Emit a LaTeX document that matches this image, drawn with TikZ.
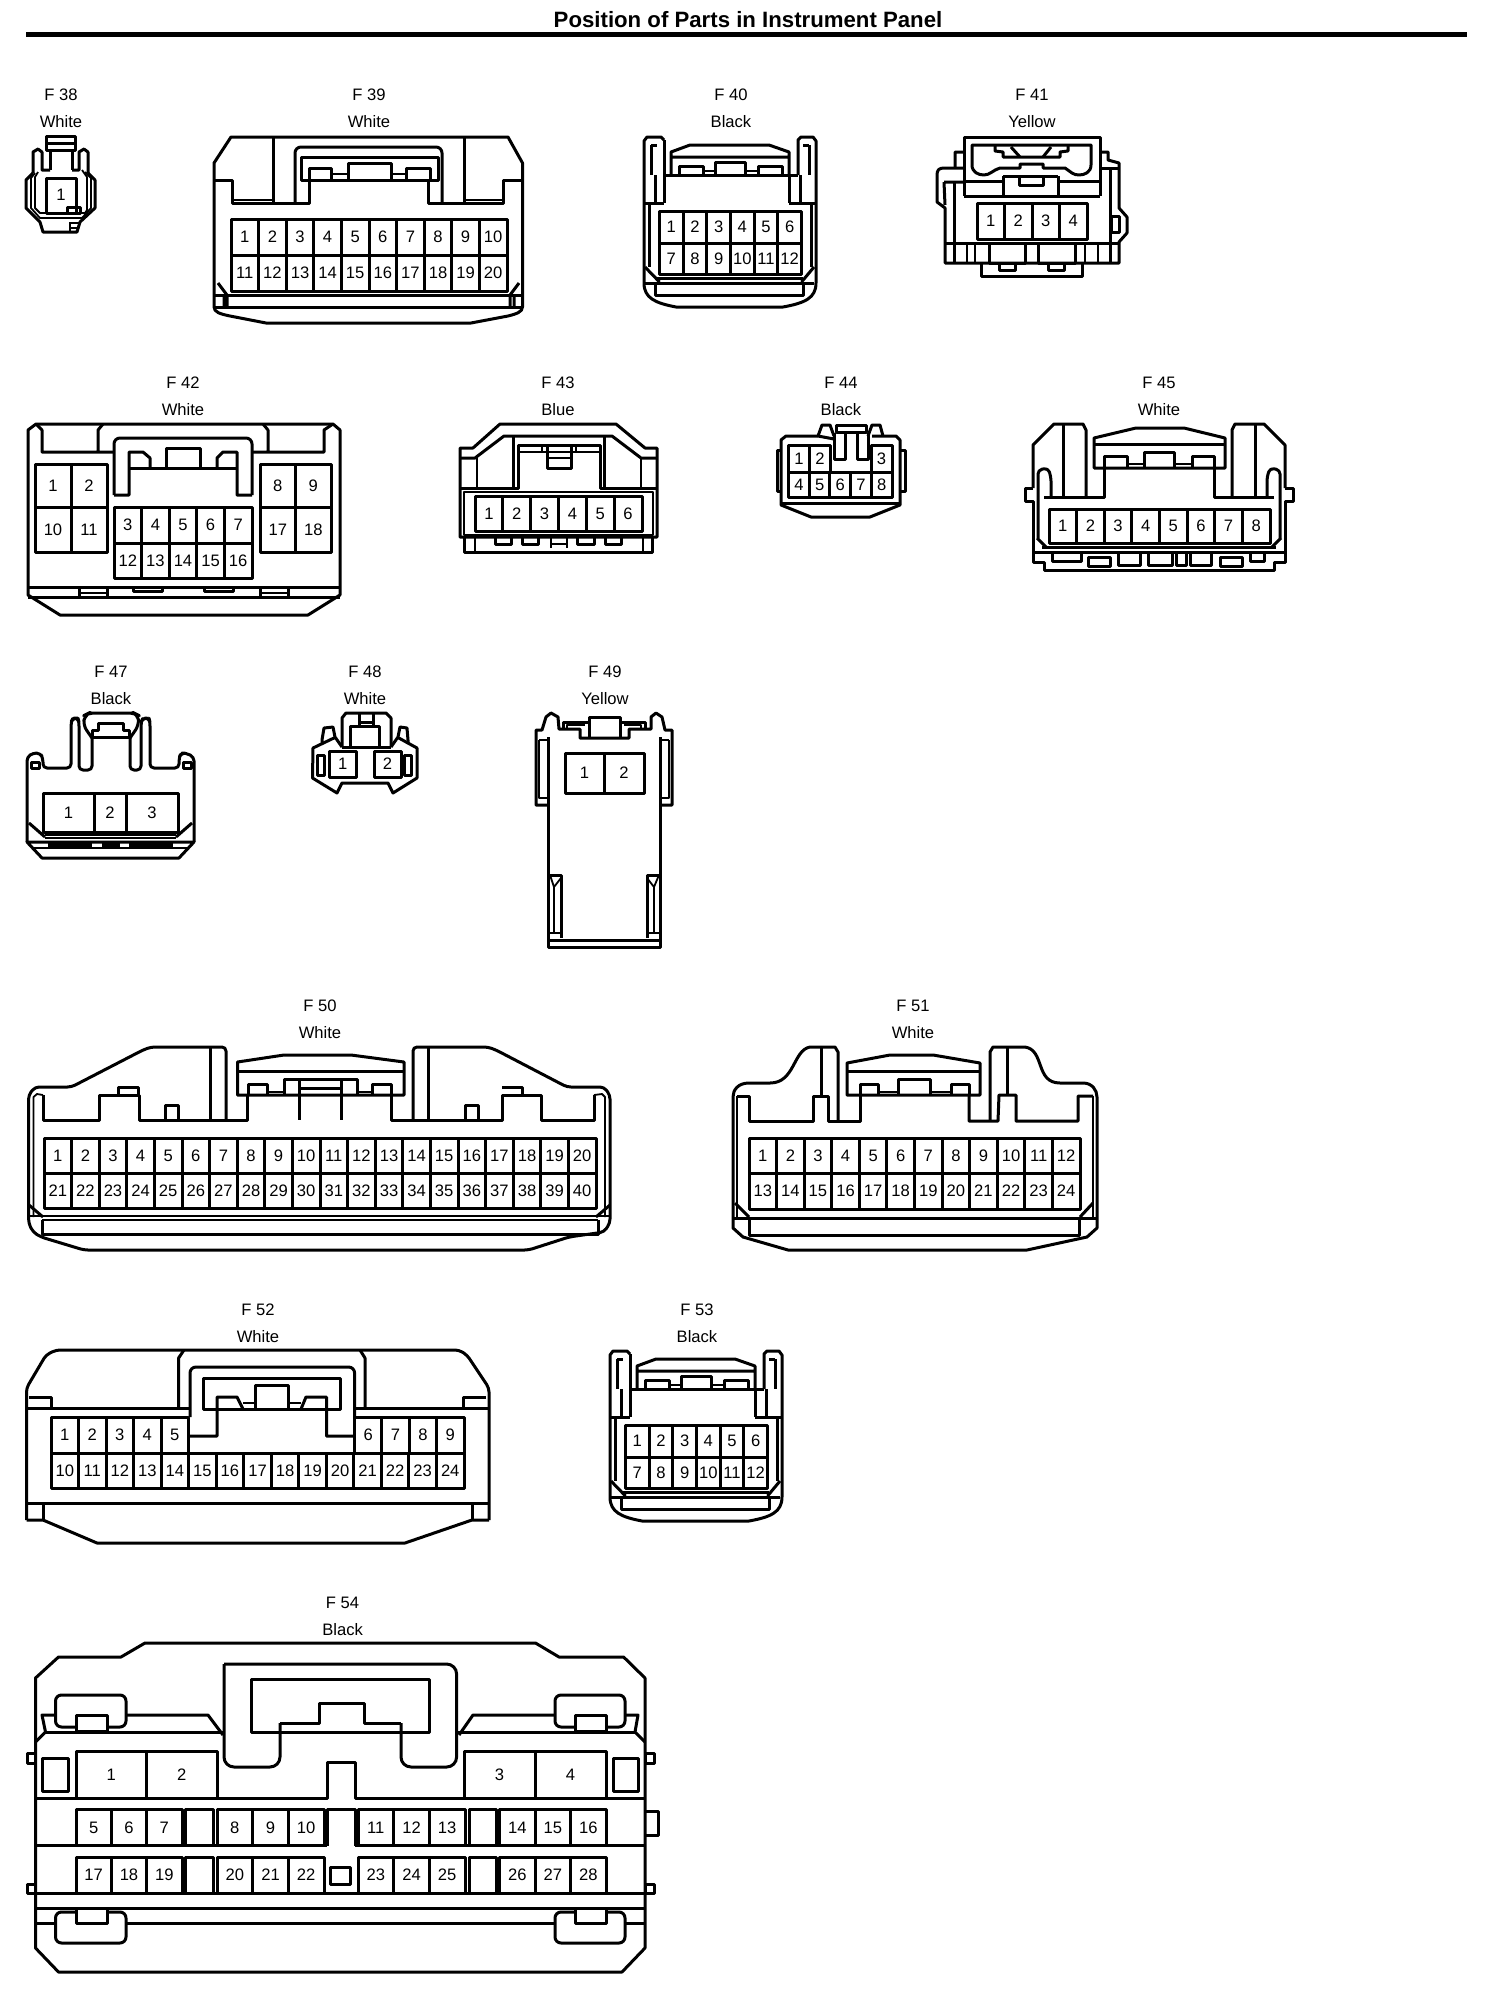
\documentclass[tikz,border=0pt]{standalone}
\usepackage{fontspec}
\setmainfont{Liberation Sans}
\usetikzlibrary{positioning}
\tikzstyle{part}=[line width=1.5pt, line join=round]
\tikzstyle{thin part}=[line width=0.9pt, line join=round]
\tikzstyle{tag}=[inner sep=0pt, text height=5.9pt, text depth=0pt, font=\fontsize{8.3}{10}\selectfont]
\tikzstyle{pin}=[inner sep=0pt, text height=5.9pt, text depth=0pt, font=\fontsize{8.3}{10}\selectfont]
\tikzstyle{headline}=[inner sep=0pt, font=\fontsize{11.1}{13}\selectfont\bfseries]

% label pair above a connector: name, x, code, colour
\newcommand{\partlabel}[5]{%
  \node[tag] (#1-code) at (#2,#3) {#4};
  \node[tag, below=13.5pt of #1-code.center, anchor=center] (#1-colour) {#5};
}
% one row of equal cells: name, x0, y0, x1, y1, cells, first number
\newcommand{\pingrid}[7]{%
  \draw[part] (#2,#3) rectangle (#4,#5);
  \foreach \k in {1,...,#6}{
    \pgfmathsetmacro{\cellw}{(#4-#2)/#6}
    \pgfmathsetmacro{\cellx}{#2+(\k-0.5)*\cellw}
    \pgfmathsetmacro{\celly}{(#3+#5)/2}
    \pgfmathsetmacro{\cellr}{#2+\k*\cellw}
    \pgfmathtruncatemacro{\cellnum}{#7+\k-1}
    \node[pin] (#1-\cellnum) at (\cellx,\celly) {\cellnum};
    \ifnum\k<#6 \draw[part] (\cellr,#3) -- (\cellr,#5); \fi
  }
}
% single cell: name, x0, y0, x1, y1, number
\newcommand{\pincell}[6]{%
  \draw[part] (#2,#3) rectangle (#4,#5);
  \node[pin] (#1-#6) at ({(#2+#4)/2},{(#3+#5)/2}) {#6};
}
% body shared by F 40 and F 53
\newcommand{\lockbody}[1]{%
  \draw[part] (664,140) -- (661,137) -- (647,137) -- (644,141) -- (644,283) .. controls (644,298) and (655,303) .. (676,307) -- (783,307) .. controls (805,303) and (816,298) .. (816,283) -- (816,141) -- (813,137) -- (801,137) -- (798,140) -- (798,175);
  \draw[part] (664,140) -- (664,203) (651,145) -- (651,175) (655,175) -- (655,203) (651,145) -- (657,145);
  \draw[part] (789,175) -- (789,203) (800,175) -- (800,203) (809,145) -- (809,175) (803,145) -- (809,145);
  \draw[part] (644,203) -- (664,203) (789,203) -- (816,203);
  \draw[part] (664,175) -- (798,175);
  \draw[part] (671,175) -- (671,152) -- (690,145) -- (769,145) -- (789,152) -- (789,175) (671,157) -- (789,157);
  \draw[part] (679,175) |- (703,166) -- (703,175) (715,175) |- (745,162) -- (745,175) (758,175) |- (782,166) -- (782,175);
  \draw[thin part] (703,171) -- (715,171) (745,171) -- (758,171);
  \draw[part] (649,203) -- (649,267) (811,203) -- (811,267);
  \pingrid{#1}{659.5}{211}{801.5}{243}{6}{1}
  \pingrid{#1}{659.5}{243}{801.5}{274}{6}{7}
  \draw[part] (645,267) -- (659.5,282) (814,267) -- (801.5,282);
  \draw[part] (655,278) -- (803,278) (645,283) -- (814,283);
  \draw[part] (655,283) -- (655,295) -- (803,295) -- (803,283);
}

\begin{document}
\begin{tikzpicture}[x=0.5pt, y=-0.5pt]
\useasboundingbox (0,0) rectangle (1504,1998);

% Heading
\node[headline] (heading) at (748,20) {Position of Parts in Instrument Panel};
\coordinate (ruleL) at (26,34.5);
\coordinate (ruleR) at (1467,34.5);
\draw[line width=2.5pt] (ruleL) -- (ruleR);

% F 38
\partlabel{F38}{61}{95}{F 38}{White}
\draw[part] (46,150) -- (46,136) -- (75,136) -- (75,150) -- cycle (46,143) -- (75,143);
\draw[part] (50,150) -- (50,170) (72,150) -- (72,170);
\draw[part] (50,170) -- (42,170) -- (42,152) -- (38,149) -- (33,152) -- (33,173);
\draw[part] (72,170) -- (79,170) -- (79,152) -- (84,149) -- (88,152) -- (88,173);
\draw[part] (33,173) -- (26,180) -- (26,208) -- (40,222) -- (43,232) -- (77,232) -- (80,222) -- (95,208) -- (95,180) -- (88,173);
\draw[thin part] (35,173) -- (31,178) -- (31,208) -- (40,218) -- (82,218) -- (91,208) -- (91,178) -- (85,172);
\draw[thin part] (38,172) -- (35,177) -- (35,208) -- (40,213) -- (85,213) -- (87,210) -- (87,177) -- (82,170);
\draw[part] (46,178) rectangle (76,213);
\draw[part] (67,207) rectangle (80,213);
\draw[thin part] (70,223) -- (80,223) (70,228) -- (78,228) (70,222) -- (70,232);
\node[pin] (F38-1) at (61,195) {1};

% F 39
\partlabel{F39}{369}{95}{F 39}{White}
\draw[part] (231,137) -- (508,137) -- (522.5,163) -- (522.5,307) .. controls (522.5,312) and (516,314) .. (508,316) -- (471,323) -- (266,323) -- (230,316) .. controls (220,314) and (214,312) .. (214,307) -- (214,163) -- cycle;
\draw[part] (214,180) -- (232,180) -- (232,203) -- (309,203) -- (309,180);
\draw[part] (522.5,180) -- (503,180) -- (503,203) -- (428,203) -- (428,180);
\draw[thin part] (232,200) -- (273,200) (503,200) -- (464,200);
\draw[part] (273,137) -- (273,203) (464,137) -- (464,203);
\draw[part, rounded corners=3pt] (295,203) -- (295,147) -- (442,147) -- (442,203);
\draw[part] (301,157) rectangle (438,180);
\draw[part] (309,180) |- (331,168) -- (331,180) (348,180) |- (391,163) -- (391,180) (406,180) |- (430,168) -- (430,180);
\draw[thin part] (331,174) -- (348,174) (391,174) -- (406,174);
\pingrid{F39}{231}{219}{507}{255}{10}{1}
\pingrid{F39}{231}{255}{507}{291}{10}{11}
\draw[part] (214,295) -- (522.5,295) (214,307) -- (522.5,307);
\draw[part] (218,283) -- (227,295) -- (227,307) (224,295) -- (224,307);
\draw[part] (519,283) -- (510,295) -- (510,307) (514,295) -- (514,307);

% F 40
\partlabel{F40}{731}{95}{F 40}{Black}
\lockbody{F40}

% F 41
\partlabel{F41}{1032}{95}{F 41}{Yellow}
\draw[part] (964,196) -- (964,137) -- (1100,137) -- (1100,196);
\draw[part] (972,145) -- (1091,145) -- (1091,165) .. controls (1091,172) and (1085,175) .. (1079,175) .. controls (1073,175) and (1071,172) .. (1065,168) -- (1043,168) -- (1043,164) -- (1020,164) -- (1020,168) -- (1000,168) .. controls (993,170) and (990,175) .. (984,175) .. controls (978,175) and (972,172) .. (972,165) -- cycle;
\draw[part] (995,146) -- (995,151) -- (1003,152) -- (1003,157) -- (1060,157) -- (1060,152) -- (1068,151) -- (1068,146);
\draw[part] (1011,147) -- (1020,157) (1051,147) -- (1043,157);
\draw[part] (1003,176) -- (1058,176);
\draw[part] (964,181) -- (1003,181) (1058,181) -- (1100,181);
\draw[part] (1003,176) -- (1003,196) (1058,176) -- (1058,196);
\draw[part] (1019,176) -- (1019,185) -- (1043,185) -- (1043,176);
\draw[part] (964,196) -- (1100,196);
\pingrid{F41}{977}{203}{1087}{239}{4}{1}
\draw[part] (964,168) -- (944,168) .. controls (939,168) and (937,170) .. (937,175) -- (937,202) -- (945,208) -- (945,263) -- (1119,263) -- (1119,242) -- (1127,233) -- (1127,217) -- (1119,208) -- (1119,163) -- (1108,160) -- (1108,152) -- (1100,152);
\draw[part] (964,152) -- (955,152) -- (955,168) (944,182) -- (964,182) (944,182) -- (945,205);
\draw[part] (954,182) -- (954,263) (1110,168) -- (1110,263) (1100,168) -- (1119,168);
\draw[part] (1111,216) rectangle (1119,232);
\draw[part] (945,243) -- (989,243) (1025,243) -- (1038,243) (1075,243) -- (1119,243);
\draw[part] (989,243) rectangle (1025,263) (1038,243) rectangle (1075,263);
\draw[thin part] (967,243) -- (967,263) (975,243) -- (975,263) (1085,243) -- (1085,263) (1098,243) -- (1098,263);
\draw[part] (981,263) -- (981,276) -- (1082,276) -- (1082,263);
\draw[part] (999,263) -- (999,270) -- (1015,270) -- (1015,263) (1048,263) -- (1048,270) -- (1064,270) -- (1064,263);

% F 42
\partlabel{F42}{183}{383}{F 42}{White}
\draw[part] (36,424) -- (333,424) -- (340,430) -- (340,595) -- (308,615) -- (60,615) -- (28,595) -- (28,430) -- cycle;
\draw[part] (36,424) -- (42,430) -- (42,452) -- (114,452) (98,452) -- (98,430) -- (103,424);
\draw[part] (333,424) -- (324,430) -- (324,452) -- (252,452) (268,452) -- (268,430) -- (263,424);
\draw[part, rounded corners=3pt] (114,495) -- (114,438) -- (252,438) -- (252,495);
\draw[part] (114,495) -- (129,495) -- (129,452) -- (143,452) -- (150,458) -- (150,468);
\draw[part] (252,495) -- (237,495) -- (237,452) -- (223,452) -- (217,458) -- (217,468);
\draw[part] (129,468) -- (237,468);
\draw[part] (166,468) |- (200,448) -- (200,468);
\pingrid{F42}{35}{464}{107}{507}{2}{1}
\pingrid{F42}{35}{507}{107}{552}{2}{10}
\pingrid{F42}{260}{464}{331}{507}{2}{8}
\pingrid{F42}{260}{507}{331}{552}{2}{17}
\pingrid{F42}{114}{507}{252}{543}{5}{3}
\pingrid{F42}{114}{543}{252}{578}{5}{12}
\draw[part] (28,587) -- (340,587) (28,597.5) -- (340,597.5);
\draw[part] (79.5,587) -- (79.5,597.5) (107,587) -- (107,597.5) (260,587) -- (260,597.5) (288,587) -- (288,597.5);
\draw[thin part] (79.5,593) -- (107,593) (260,593) -- (288,593);
\draw[part] (133,587) -- (133,591) -- (162,591) -- (162,587) (204,587) -- (204,591) -- (233,591) -- (233,587);

% F 43
\partlabel{F43}{558}{383}{F 43}{Blue}
\draw[part] (460,537) -- (460,448) -- (473,448) -- (500,424) -- (616,424) -- (645,448) -- (657,448) -- (657,537) -- cycle;
\draw[part] (460,458) -- (475,458) -- (504,436) -- (612,436) -- (641,458) -- (657,458);
\draw[part] (460,488) -- (518,488) -- (518,445) -- (600,445) -- (600,488) -- (657,488);
\draw[part] (513,436) -- (513,488) (604,436) -- (604,488);
\draw[thin part] (477,458) -- (477,488) (641,458) -- (641,488);
\draw[thin part] (464,492) rectangle (653,535);
\draw[thin part] (518,452) -- (600,452);
\draw[part] (547,445) -- (547,468) -- (571,468) -- (571,445);
\draw[thin part] (547,458) -- (571,458) (542,445) -- (542,452) (576,445) -- (576,452);
\pingrid{F43}{475}{496}{642}{531}{6}{1}
\draw[part] (464,537) -- (464,552) -- (652,552) -- (652,537);
\draw[thin part] (475,537) -- (475,552) (643,537) -- (643,552);
\draw[part] (495,537) -- (495,544) -- (511,544) -- (511,537) (522,537) -- (522,544) -- (538,544) -- (538,537);
\draw[part] (577,537) -- (577,544) -- (594,544) -- (594,537) (605,537) -- (605,544) -- (621,544) -- (621,537);
\draw[thin part] (551,537) -- (551,548) (567,537) -- (567,548) (551,544) -- (567,544);

% F 44
\partlabel{F44}{841}{383}{F 44}{Black}
\draw[part] (818,436) -- (786,436) -- (781,440) -- (781,505) -- (811,517) -- (870,517) -- (900,505) -- (900,440) -- (896,436) -- (872,436);
\draw[part] (781,503) -- (900,503);
\draw[part] (781,450) -- (777,450) -- (777,491) -- (781,491) (900,450) -- (905,450) -- (905,491) -- (900,491);
\draw[part] (818,436) -- (822,425) -- (830,425) -- (834,436);
\draw[part] (868,436) -- (872,425) -- (880,425) -- (883,436);
\draw[part] (836,425) -- (866,425) -- (866,432) -- (836,432) -- cycle;
\draw[part] (834,433) -- (834,459) -- (845,459) -- (845,432) (857,432) -- (857,459) -- (868,459) -- (868,433);
\draw[part] (818,436) -- (834,439);
\pingrid{F44}{788.6}{445}{830.3}{472}{2}{1}
\pincell{F44}{871}{445}{892}{472}{3}
\pingrid{F44}{788.6}{472}{892}{497}{5}{4}

% F 45
\partlabel{F45}{1159}{383}{F 45}{White}
\draw[part] (1033,488) -- (1033,445) -- (1054,424) -- (1083,424) -- (1086,430) -- (1086,497);
\draw[part] (1285,488) -- (1285,445) -- (1264,424) -- (1235,424) -- (1232,430) -- (1232,497);
\draw[part] (1063,424) -- (1063,497) (1255,424) -- (1255,497);
\draw[part] (1044,497) -- (1104,497) -- (1104,468) (1274,497) -- (1214,497) -- (1214,468);
\draw[part] (1033,488) -- (1025,488) -- (1025,501) -- (1033,501) -- (1033,552);
\draw[part] (1285,488) -- (1293,488) -- (1293,501) -- (1285,501) -- (1285,552);
\draw[part, rounded corners=2pt] (1038,538) -- (1038,470) -- (1048,468) -- (1051,477) -- (1051,497);
\draw[part, rounded corners=2pt] (1280,538) -- (1280,470) -- (1270,468) -- (1267,477) -- (1267,497);
\draw[part] (1094,468) -- (1094,438) -- (1136,428) -- (1184,428) -- (1225,438) -- (1225,468) -- cycle;
\draw[part] (1094,444) -- (1225,444);
\draw[part] (1104,468) |- (1127,456) -- (1127,468) (1144,468) |- (1174,452) -- (1174,468) (1192,468) |- (1214,456) -- (1214,468);
\draw[thin part] (1127,464) -- (1144,464) (1174,464) -- (1192,464);
\pingrid{F45}{1049}{509}{1270}{543}{8}{1}
\draw[part] (1037,538) -- (1046,547) (1281,538) -- (1272,547);
\draw[part] (1042,547) -- (1276,547);
\draw[part] (1033,552) -- (1285,552);
\draw[part] (1033,552) -- (1033,562) -- (1044,562) -- (1044,570) -- (1274,570) -- (1274,562) -- (1285,562) -- (1285,552);
\draw[part] (1052,552) -- (1052,561) -- (1081,561) -- (1081,552) (1118,552) -- (1118,565) -- (1140,565) -- (1140,552);
\draw[part] (1148,552) -- (1148,565) -- (1172,565) -- (1172,552) (1176,552) -- (1176,565) -- (1186,565) -- (1186,552);
\draw[part] (1190,552) -- (1190,565) -- (1211,565) -- (1211,552) (1250,552) -- (1250,561) -- (1264,561) -- (1264,552);
\draw[part] (1088,557) rectangle (1110,566) (1220,557) rectangle (1242,566);

% F 47
\partlabel{F47}{111}{672}{F 47}{Black}
\draw[part, rounded corners=2pt] (27,842) -- (27,757) -- (33,753) -- (40,753) -- (43,758) -- (43,768) -- (71,768) -- (71,722) -- (73,718) -- (78,718) -- (79,722) -- (79,770) -- (92,770) -- (92,738);
\draw[part, rounded corners=2pt] (194,842) -- (194,757) -- (186,753) -- (181,753) -- (179,758) -- (179,768) -- (150,768) -- (150,722) -- (149,718) -- (143,718) -- (141,722) -- (141,770) -- (130,770) -- (130,738);
\draw[part, rounded corners=3pt] (92,738) -- (83,725) -- (85,715) -- (89,713) -- (134,713) -- (138,715) -- (139,725) -- (130,738);
\draw[part] (92,737) -- (92,730) -- (98,730) -- (98,723) -- (123,723) -- (123,730) -- (129,730) -- (129,737) -- cycle;
\draw[part] (31,762) rectangle (39,768) (183,762) rectangle (191,768);
\pincell{F47}{43}{793}{94}{832}{1}
\pincell{F47}{94}{793}{126}{832}{2}
\pincell{F47}{126}{793}{178}{832}{3}
\draw[part] (29,823) -- (45,837) (192,823) -- (176,837);
\draw[thin part] (45,835) -- (176,835) (45,838) -- (176,838);
\draw[part] (27,842) -- (194,842) -- (179,858) -- (42,858) -- cycle;
\draw[thin part] (33,848) -- (187,848);
\draw[part] (48,843) -- (92,843) (102,843) -- (120,843) (129,843) -- (173,843) (48,846) -- (92,846) (102,846) -- (120,846) (129,846) -- (173,846);

% F 48
\partlabel{F48}{365}{672}{F 48}{White}
\draw[part] (342,747) -- (342,718) -- (346,713) -- (386,713) -- (391,718) -- (391,747);
\draw[part] (350,726) rectangle (379.5,747);
\draw[part] (359,726) -- (359,714) (373,726) -- (373,714) (359,722) -- (373,722);
\draw[part] (342,747) -- (391,747);
\draw[part] (342,747) -- (335,737) -- (333,727) -- (324,728) -- (322,740) -- (322,744);
\draw[part] (391,747) -- (398,737) -- (400,727) -- (407,728) -- (408,740) -- (408,744);
\draw[part] (336,737) -- (313,748) -- (312.5,778) -- (337,793) -- (342,783) -- (388,783) -- (393,793) -- (417,778) -- (417,748) -- (397,737);
\pincell{F48}{329.5}{751}{356}{777}{1}
\pincell{F48}{374}{751}{401}{777}{2}
\draw[part] (317,755) rectangle (324,775) (404,755) rectangle (411,775);

% F 49
\partlabel{F49}{605}{672}{F 49}{Yellow}
\draw[part] (548,805) -- (536,805) -- (536,730) -- (542,730) -- (546,717) -- (551,713) -- (558,717) -- (559,729) -- (580,729) -- (580,738) -- (629,738) -- (629,729) -- (651,729) -- (651,717) -- (656,713) -- (662,717) -- (665,730) -- (672,730) -- (672,805) -- (660,805);
\draw[part] (548,737) -- (548,947) -- (660,947) -- (660,737);
\draw[part] (548,940) -- (660,940);
\draw[part] (589,738) -- (589,717) -- (620,717) -- (620,738);
\draw[part] (563,729) -- (563,722) -- (589,722) (645,729) -- (645,722) -- (620,722);
\draw[thin part] (567,729) -- (567,725) -- (585,725) (641,729) -- (641,725) -- (624,725);
\draw[thin part] (539,740) -- (539,798) -- (548,798) (669,740) -- (669,798) -- (660,798) (539,740) -- (548,740) (669,740) -- (660,740);
\pincell{F49}{565}{753}{604}{793}{1}
\pincell{F49}{604}{753}{644}{793}{2}
\draw[part] (549,875) -- (561,875) -- (561,938) (647,938) -- (647,875) -- (660,875);
\draw[thin part] (554,887) -- (554,933) (654,887) -- (654,933) (550,875) -- (554,887) -- (561,878) (659,875) -- (654,887) -- (647,878) (549,933) -- (561,933) (647,933) -- (660,933);

% F 50
\partlabel{F50}{320}{1006}{F 50}{White}
\draw[part, rounded corners=2pt] (226,1120) -- (226,1047) -- (151,1047) -- (143,1050) -- (71.4,1087) -- (35,1087) -- (28.6,1095) -- (28.6,1223) -- (33,1232) -- (41,1237) -- (84,1250) -- (528.6,1250) -- (569,1237) -- (604,1232) -- (610,1223) -- (610,1095) -- (604,1087) -- (567,1087) -- (496,1050) -- (488,1047) -- (413,1047) -- (413,1120);
\draw[part] (210,1047) -- (210,1120) (428.6,1047) -- (428.6,1120);
\draw[thin part] (33.5,1217) -- (33.5,1097) -- (37,1094) -- (43,1095) (605,1217) -- (605,1097) -- (602,1094) -- (594,1095);
\draw[part] (43,1095) -- (43,1120) -- (99,1120) -- (99,1095) -- (139,1095) -- (139,1120) -- (247,1120) -- (247,1095);
\draw[part] (391,1095) -- (391,1120) -- (502,1120) -- (502,1095) -- (541,1095) -- (541,1120) -- (594,1120) -- (594,1095);
\draw[part] (118,1095) -- (118,1087) -- (138,1087) -- (138,1095) (502,1087) -- (522,1087) -- (522,1095);
\draw[part] (165,1120) -- (165,1105) -- (178,1105) -- (178,1120) (465,1120) -- (465,1105) -- (478,1105) -- (478,1120);
\draw[part] (237.5,1095) -- (237.5,1062) -- (284,1055) -- (351,1055) -- (404,1062) -- (404,1095) -- cycle;
\draw[part] (237.5,1071) -- (404,1071);
\draw[part] (248,1095) |- (267,1084) -- (267,1095) (372,1095) |- (391,1084) -- (391,1095);
\draw[part] (284,1095) |- (357,1079) -- (357,1095);
\draw[part] (299,1079) -- (299,1120) (341,1079) -- (341,1120) (299,1088) -- (341,1088);
\draw[thin part] (267,1092) -- (284,1092) (357,1092) -- (372,1092);
\pingrid{F50}{44}{1138}{596}{1173}{20}{1}
\pingrid{F50}{44}{1173}{596}{1208}{20}{21}
\draw[part] (29,1205) -- (43,1217) (610,1205) -- (596,1217);
\draw[thin part] (28.6,1216) -- (610,1216) (42,1220) -- (598,1220);
\draw[part] (42,1220) -- (42,1234) -- (598,1234) -- (598,1220);

% F 51
\partlabel{F51}{913}{1006}{F 51}{White}
\draw[part] (838,1121) -- (838,1052) -- (835,1047) -- (810,1047) .. controls (793,1050) and (795,1083) .. (770,1083) -- (749,1083) .. controls (738,1083) and (733,1090) .. (733,1097) -- (733,1228) -- (743,1237) -- (788,1250) -- (1027,1250) -- (1087,1237) -- (1097,1228) -- (1097,1097) .. controls (1097,1090) and (1092,1083) .. (1083,1083) -- (1060,1083) .. controls (1035,1083) and (1045,1050) .. (1025,1047) -- (993,1047) -- (990,1052) -- (990,1121);
\draw[part] (821,1047) -- (821,1096) (1007,1047) -- (1007,1095);
\draw[thin part] (737,1218) -- (737,1096) (1093,1218) -- (1093,1096);
\draw[part] (737,1096) -- (749,1096) -- (749,1121) -- (813,1121) -- (813,1096) -- (828,1096) -- (828,1121) -- (860,1121) -- (860,1095);
\draw[part] (969,1095) -- (969,1121) -- (998,1121) -- (999,1095) -- (1016,1095) -- (1016,1121) -- (1078,1121) -- (1078,1096) -- (1093,1096);
\draw[part] (847,1095) -- (847,1063) -- (890,1055) -- (933,1055) -- (980,1063) -- (980,1095) -- cycle;
\draw[part] (847,1071) -- (980,1071);
\draw[part] (860,1095) |- (878,1084) -- (878,1095) (898,1095) |- (930,1079) -- (930,1095) (951,1095) |- (969,1084) -- (969,1095);
\draw[thin part] (878,1092) -- (898,1092) (930,1092) -- (951,1092);
\pingrid{F51}{749}{1138}{1080}{1173}{12}{1}
\pingrid{F51}{749}{1173}{1080}{1209}{12}{13}
\draw[part] (735,1203) -- (749,1217) (1093,1203) -- (1080,1217);
\draw[part] (733,1218) -- (1097,1218);
\draw[part] (749,1218) -- (749,1235) -- (1079,1235) -- (1079,1218);

% F 52
\partlabel{F52}{258}{1310}{F 52}{White}
\draw[part, rounded corners=2pt] (26.5,1520) -- (26.5,1388) -- (46,1355) -- (56,1350) -- (459,1350) -- (467,1355) -- (489,1388) -- (489,1520);
\draw[part] (26.5,1520) -- (43,1520) -- (97,1543) -- (405,1543) -- (472,1520) -- (489,1520);
\draw[part] (29,1397) -- (51,1397) -- (51,1408) (486,1397) -- (463,1397) -- (463,1408);
\draw[part] (26.5,1408) -- (190,1408) (354.6,1408) -- (489,1408);
\draw[part] (178.6,1408) -- (178.6,1358) -- (184,1350) (365,1408) -- (365,1358) -- (360,1350);
\draw[part, rounded corners=3pt] (190,1417) -- (190,1367) -- (354.6,1367) -- (354.6,1417);
\draw[part] (203,1378) rectangle (340,1409);
\draw[part] (190,1436) -- (217,1436) -- (217,1397) -- (237,1397) -- (243,1409);
\draw[part] (354.6,1436) -- (326.5,1436) -- (326.5,1397) -- (306,1397) -- (301,1409);
\draw[part] (255,1409) |- (288,1385) -- (288,1409);
\draw[thin part] (243,1403) -- (255,1403) (288,1403) -- (301,1403);
\pingrid{F52}{51}{1417}{188.6}{1453}{5}{1}
\pingrid{F52}{354.5}{1417}{464}{1453}{4}{6}
\pingrid{F52}{51}{1453}{464}{1488}{15}{10}
\draw[part] (26.5,1503) -- (489,1503);
\draw[part] (43,1503) -- (43,1520) (472,1503) -- (472,1520);

% F 53
\partlabel{F53}{697}{1310}{F 53}{Black}
\begin{scope}[shift={(-34,1214)}]
\lockbody{F53}
\end{scope}

% F 54
\partlabel{F54}{342.6}{1603}{F 54}{Black}
\draw[part] (35.5,1678) -- (58.5,1657) -- (121,1657) -- (145,1643) -- (535.5,1643) -- (559,1657) -- (623.6,1657) -- (645,1678) -- (645,1948) -- (622,1972) -- (58.5,1972) -- (35.5,1948) -- cycle;
\draw[part] (45.5,1732) -- (223,1732) (457.5,1732) -- (635,1732);
\draw[part] (35.5,1742) -- (45.5,1732) -- (42,1715) -- (208,1715) -- (223,1735);
\draw[part] (645,1742) -- (635,1732) -- (638,1715) -- (473,1715) -- (459,1735);
\draw[part, rounded corners=5pt] (224,1664) -- (456.6,1664) -- (456.6,1767) -- (401,1767) -- (401,1723);
\draw[part] (401,1723) -- (364,1723) -- (364,1703) -- (319,1703) -- (319,1723) -- (280,1723);
\draw[part, rounded corners=5pt] (280,1723) -- (280,1767) -- (224,1767) -- (224,1664);
\draw[part] (251.5,1679) rectangle (429,1732);
\draw[part, rounded corners=3pt, fill=white] (55.5,1695) rectangle (126,1727);
\draw[part, rounded corners=3pt, fill=white] (555,1695) rectangle (625,1727);
\draw[part, fill=white] (76,1715) rectangle (107,1731) (575,1715) rectangle (606,1731);
\draw[part] (27,1753) rectangle (35.5,1763) (645,1753) rectangle (654,1763);
\draw[part] (42.5,1758) rectangle (68.5,1791) (613,1758) rectangle (638,1791);
\pingrid{F54}{76}{1751}{217}{1798}{2}{1}
\pingrid{F54}{464}{1751}{606}{1798}{2}{3}
\draw[part] (35.5,1798) -- (327,1798) -- (327,1762) -- (355,1762) -- (355,1798) -- (645,1798);
\pingrid{F54}{76}{1809}{182}{1845.5}{3}{5}
\draw[part] (185.6,1845.5) |- (213,1809) -- (213,1845.5);
\pingrid{F54}{217}{1809}{324}{1845.5}{3}{8}
\draw[part] (327,1845.5) |- (355,1809) -- (355,1845.5);
\pingrid{F54}{358}{1809}{465}{1845.5}{3}{11}
\draw[part] (469,1845.5) |- (496.5,1809) -- (496.5,1845.5);
\pingrid{F54}{499.5}{1809}{606}{1845.5}{3}{14}
\draw[part] (35.5,1845.5) -- (327,1845.5) (355,1845.5) -- (645,1845.5);
\draw[part] (646,1811) -- (658,1811) -- (658,1835) -- (646,1835);
\pingrid{F54}{76}{1857}{182}{1893}{3}{17}
\draw[part] (185.6,1893) |- (213,1857) -- (213,1893);
\pingrid{F54}{217}{1857}{324}{1893}{3}{20}
\draw[part] (330,1867) rectangle (350,1884);
\pingrid{F54}{358}{1857}{465}{1893}{3}{23}
\draw[part] (469,1893) |- (496.5,1857) -- (496.5,1893);
\pingrid{F54}{499.5}{1857}{606}{1893}{3}{26}
\draw[part] (27,1884) rectangle (35.5,1893) (645,1884) rectangle (654,1893);
\draw[part] (35.5,1893) -- (645,1893);
\draw[part] (35.5,1908) -- (645,1908);
\draw[part] (35.5,1923) -- (645,1923);
\draw[part, rounded corners=3pt, fill=white] (55.5,1912) rectangle (126,1943);
\draw[part, rounded corners=3pt, fill=white] (555,1912) rectangle (625,1943);
\draw[part, fill=white] (76,1908) rectangle (107,1923) (575,1908) rectangle (606,1923);

\end{tikzpicture}
\end{document}
